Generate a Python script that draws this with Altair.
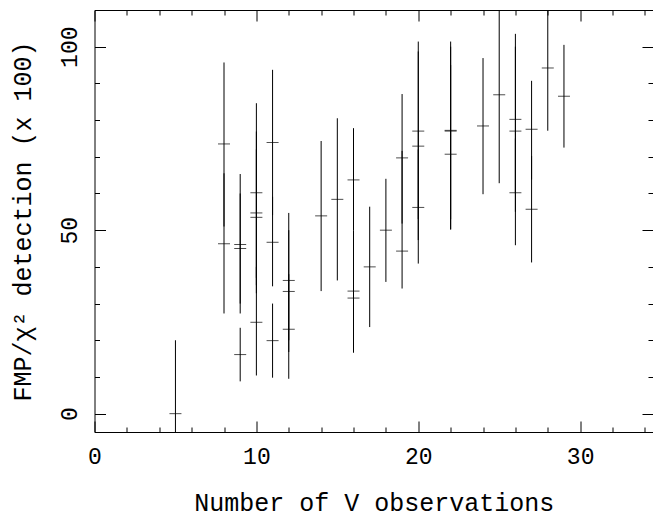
import altair as alt
import pandas as pd

# Number of V observations (x), detection value (x 100), error bar low / high
n_obs = [5, 8, 8, 9, 9, 9, 10, 10, 10, 10, 11, 11, 11, 12, 12, 12, 14, 15, 16, 16,
         16, 17, 18, 19, 19, 20, 20, 20, 22, 22, 22, 24, 25, 26, 26, 26, 27, 27, 28, 29]
det = [0.0, 73.5, 46.3, 46.1, 45.0, 16.1, 60.2, 54.7, 53.5, 24.9, 73.9, 46.7, 19.9,
       36.3, 33.3, 23.0, 53.9, 58.4, 63.7, 33.4, 31.5, 40.0, 50.0, 69.7, 44.3, 77.0,
       72.9, 56.2, 77.2, 77.0, 70.7, 78.4, 86.9, 80.2, 77.0, 60.2, 77.5, 55.7, 94.2, 86.5]
err_lo = [-20, 51.0, 27.3, 30.0, 27.3, 8.8, 37.0, 32.8, 35.0, 10.4, 54.1, 34.7, 9.8,
          20.0, 16.8, 9.5, 33.4, 36.3, 50.0, 16.6, 21.8, 23.6, 35.9, 51.8, 34.1, 53.0,
          47.3, 40.9, 50.2, 53.0, 50.2, 59.8, 62.8, 60.0, 55.0, 45.9, 63.8, 41.2, 77.1, 72.5]
err_hi = [20, 95.7, 65.5, 60.0, 65.3, 23.4, 84.6, 76.9, 72.0, 40.0, 93.7, 59.1, 30.0,
          54.7, 50.0, 38.0, 74.3, 80.5, 77.8, 50.0, 40.9, 56.4, 64.0, 87.1, 71.6, 101.4,
          98.7, 72.0, 101.4, 100.0, 95.0, 96.9, 115.0, 103.5, 100.0, 75.0, 90.7, 70.2, 112.0, 100.5]

x_major = [0, 10, 20, 30]
x_minor = [2, 4, 6, 8, 12, 14, 16, 18, 22, 24, 26, 28, 32, 34]
y_major = [0, 50, 100]
y_minor = [10, 20, 30, 40, 60, 70, 80, 90]

df = pd.DataFrame({"n": n_obs, "det": det, "lo": err_lo, "hi": err_hi})

FONT = "Liberation Mono"
FS = 23
TFS = 25
MAJ = 11
MIN = 5

xs = alt.Scale(domain=[0, 34.5], nice=False, zero=False)
ys = alt.Scale(domain=[-5, 110], nice=False, zero=False)


def ax(orient, values, size, labels, title="", **kw):
    return alt.Axis(orient=orient, values=values, tickSize=size, offset=-size,
                    labels=labels, title=title, domain=False, grid=False,
                    tickColor="black", tickWidth=1, labelFlush=False, **kw)


base = alt.Chart(df)

bars = base.mark_rule(color="black", strokeWidth=1, clip=True).encode(
    x=alt.X("n:Q", scale=xs,
            axis=ax("bottom", x_major, MAJ, True, "Number of V observations",
                    labelPadding=13, titlePadding=22)),
    y=alt.Y("lo:Q", scale=ys,
            axis=ax("left", y_major, MAJ, True, "FMP/χ² detection (x 100)",
                    labelAngle=270, labelAlign="center", labelBaseline="alphabetic",
                    labelPadding=18, titlePadding=23)),
    y2="hi:Q",
)

marks = base.mark_tick(color="black", orient="horizontal", size=12, thickness=1).encode(
    x=alt.X("n:Q", scale=xs, axis=ax("bottom", x_minor, MIN, False)),
    y=alt.Y("det:Q", scale=ys, axis=ax("left", y_minor, MIN, False)),
)

top_right_major = base.mark_point(opacity=0).encode(
    x=alt.X("n:Q", scale=xs, axis=ax("top", x_major, MAJ, False)),
    y=alt.Y("det:Q", scale=ys, axis=ax("right", y_major, MAJ, False)),
)

top_right_minor = base.mark_point(opacity=0).encode(
    x=alt.X("n:Q", scale=xs, axis=ax("top", x_minor, MIN, False)),
    y=alt.Y("det:Q", scale=ys, axis=ax("right", y_minor, MIN, False)),
)

chart = (
    alt.layer(bars, marks, top_right_major, top_right_minor)
    .resolve_axis(x="independent", y="independent")
    .properties(
        width=558.5,
        height=422,
        autosize=alt.AutoSizeParams(type="none"),
        padding={"left": 86.5, "top": 2, "right": 0, "bottom": 86},
        background="white",
    )
    .configure_view(stroke="black", strokeWidth=1)
    .configure_axis(
        labelFont=FONT, labelFontSize=FS, labelColor="black",
        titleFont=FONT, titleFontSize=TFS, titleColor="black", titleFontWeight="normal",
    )
)

chart.save("out.html", embed_options={"renderer": "svg", "actions": False})
